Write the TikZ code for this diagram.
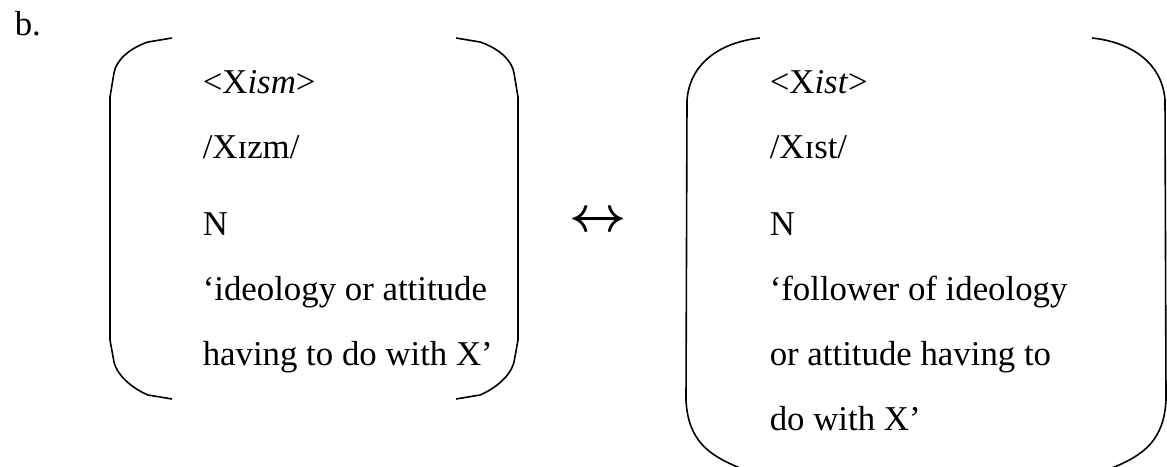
\documentclass[tikz,border=0pt]{standalone}
\usepackage{fontspec}
\setmainfont{Liberation Serif}

\begin{document}
\begin{tikzpicture}[x=0.5pt,y=-0.5pt,line width=0.8pt,
  entry/.style={anchor=base west,inner sep=0pt,font=\fontsize{17.4pt}{20pt}\selectfont}]
\useasboundingbox (0,0) rectangle (1167,466);
\node[entry] (tag) at (14,35) {b.};
% left bracket: -ism
\draw (172,38) -- (148,42) .. controls (130,48) and (116,60) .. (114,73) -- (110,97) -- (110,340)
  -- (114,362) .. controls (118,378) and (136,390) .. (148,395) -- (172,399);
\draw (456,38) -- (480,42) .. controls (498,48) and (512,60) .. (514,73) -- (518,97) -- (518,340)
  -- (514,362) .. controls (510,378) and (492,390) .. (480,395) -- (456,399);
\node[entry] (ismorth) at (202,93) {<X\textit{ism}>};
\node[entry] (ismphon) at (202,158) {/Xɪzm/};
\node[entry] (ismcat) at (202,235) {N};
\node[entry] (ismsemA) at (202,300) {‘ideology or attitude};
\node[entry] (ismsemB) at (202,365) {having to do with X’};
% correspondence
\node[inner sep=0pt,font=\fontsize{24.5pt}{25pt}\selectfont\boldmath] (corr) at (598,222) {$\leftrightarrow$};
% right bracket: -ist
\draw (760,38) .. controls (722,42) and (690,62) .. (687,100) -- (686,400)
  .. controls (688,440) and (708,455) .. (740,468);
\draw (1092,38) .. controls (1130,42) and (1162,62) .. (1165,100) -- (1166,400)
  .. controls (1164,440) and (1144,455) .. (1112,468);
\node[entry] (istorth) at (769,93) {<X\textit{ist}>};
\node[entry] (istphon) at (769,158) {/Xɪst/};
\node[entry] (istcat) at (769,235) {N};
\node[entry] (istsemA) at (769,300) {‘follower of ideology};
\node[entry] (istsemB) at (769,365) {or attitude having to};
\node[entry] (istsemC) at (769,430) {do with X’};
\end{tikzpicture}
\end{document}
